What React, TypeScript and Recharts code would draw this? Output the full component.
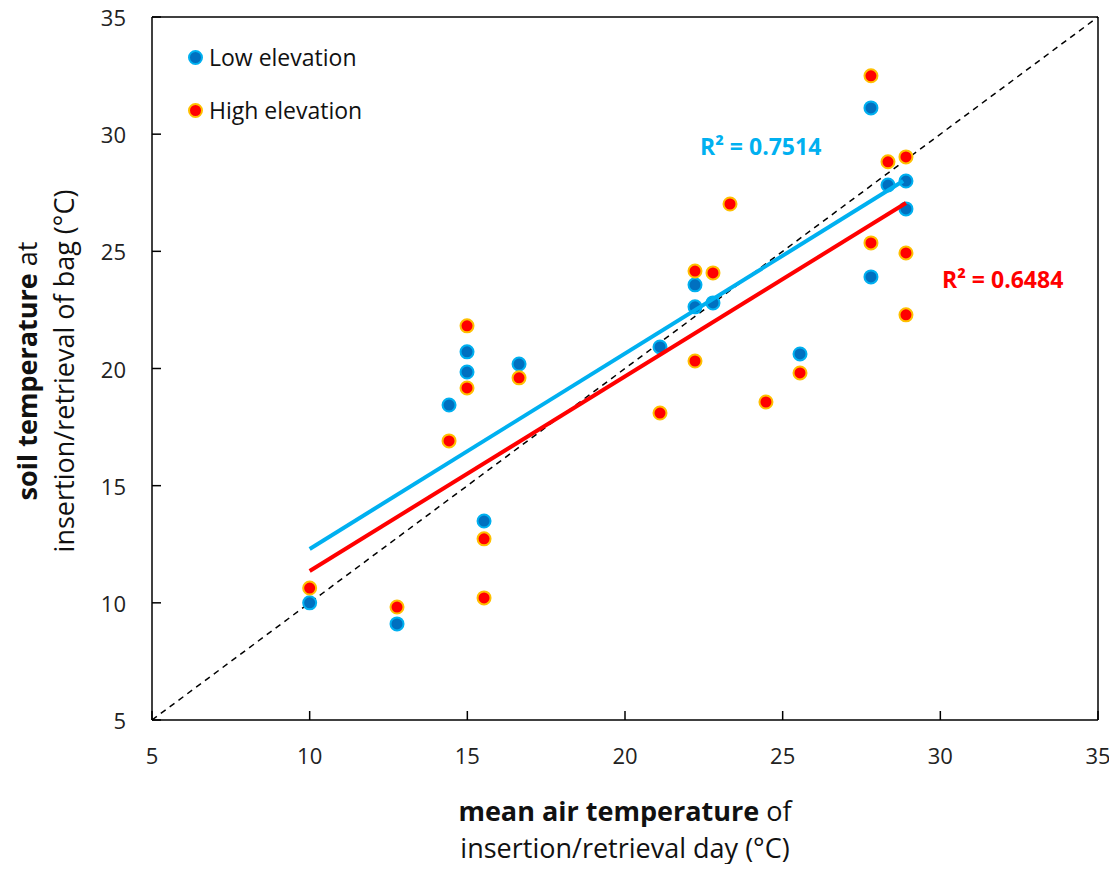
import { ScatterChart, Scatter, XAxis, YAxis, ReferenceLine } from "recharts";

// Low elevation sites: mean air temperature (x) vs soil temperature (y)
const lowAir = [10.0, 12.77, 14.42, 14.99, 14.99, 16.64, 15.53, 21.11, 22.22, 22.22, 22.79, 25.55, 27.8, 27.8, 28.34, 28.91, 28.91];
const lowSoil = [10.0, 9.1, 18.44, 20.71, 19.85, 20.19, 13.49, 20.92, 23.57, 22.63, 22.8, 20.62, 31.12, 23.91, 27.83, 28.0, 26.81];

// High elevation sites
const highAir = [10.0, 12.77, 14.42, 14.99, 14.99, 16.64, 15.53, 15.53, 21.11, 22.22, 22.79, 22.22, 23.33, 24.47, 25.55, 27.8, 27.8, 28.34, 28.91, 28.91, 28.91];
const highSoil = [10.63, 9.82, 16.91, 21.82, 19.17, 19.6, 12.73, 10.21, 18.1, 24.16, 24.08, 20.32, 27.02, 18.57, 19.81, 32.49, 25.36, 28.82, 29.03, 24.93, 22.29];

// linear trendline end points
const lowTrendAir = [10.0, 28.82];
const lowTrendSoil = [12.3, 28.0];
const highTrendAir = [10.0, 28.91];
const highTrendSoil = [11.36, 27.06];

const ticks = [5, 10, 15, 20, 25, 30, 35];

const zip = (xs: number[], ys: number[]) => xs.map((x, i) => ({ x, y: ys[i] }));

const FONT = "'Open Sans', 'Noto Sans', sans-serif";

const dot = (fill: string, stroke: string) => (p: any) =>
    <circle cx={p.cx} cy={p.cy} r={6.5} fill={fill} stroke={stroke} strokeWidth={2} />;

const XTick = (p: any) => (
    <g>
        <line x1={p.x} y1={p.y} x2={p.x} y2={p.y - 9} stroke="#000" strokeWidth={1.5} />
        <text x={p.x} y={p.y + 35} textAnchor="middle" dominantBaseline="central" fontSize={22} fill="#222" fontFamily={FONT}>
            {p.payload.value}
        </text>
    </g>
);

const YTick = (p: any) => (
    <g>
        <line x1={p.x} y1={p.y} x2={p.x + 9} y2={p.y} stroke="#000" strokeWidth={1.5} />
        <text x={p.x - 26} y={p.y} textAnchor="end" dominantBaseline="central" fontSize={22} fill="#222" fontFamily={FONT}>
            {p.payload.value}
        </text>
    </g>
);

export default function App() {
    const blue = "#0070C0";
    const cyan = "#00B0F0";
    const red = "#FF0000";
    const amber = "#FFC000";

    return (
        <div style={{ position: "relative", width: 1117, height: 872, margin: -8, fontFamily: FONT, color: "#111", overflow: "hidden" }}>
            <ScatterChart width={1117} height={872} margin={{ top: 17, right: 19, left: 92, bottom: 112 }}>
                <XAxis
                    type="number"
                    dataKey="x"
                    domain={[5, 35]}
                    ticks={ticks}
                    height={40}
                    tickSize={0}
                    tickMargin={0}
                    tickLine={false}
                    tick={<XTick />}
                    axisLine={{ stroke: "#000", strokeWidth: 1.5 }}
                    allowDataOverflow
                />
                <YAxis
                    type="number"
                    dataKey="y"
                    domain={[5, 35]}
                    ticks={ticks}
                    width={60}
                    tickSize={0}
                    tickMargin={0}
                    tickLine={false}
                    tick={<YTick />}
                    axisLine={{ stroke: "#000", strokeWidth: 1.5 }}
                    allowDataOverflow
                />
                <ReferenceLine y={35} stroke="#000" strokeWidth={1.5} />
                <ReferenceLine x={35} stroke="#000" strokeWidth={1.5} />
                <Scatter data={zip(lowAir, lowSoil)} shape={dot(blue, cyan)} isAnimationActive={false} />
                <Scatter data={zip(highAir, highSoil)} shape={dot(red, amber)} isAnimationActive={false} />
                <Scatter
                    data={zip(lowTrendAir, lowTrendSoil)}
                    line={{ stroke: cyan, strokeWidth: 4 }}
                    shape={() => <g />}
                    isAnimationActive={false}
                />
                <Scatter
                    data={zip(highTrendAir, highTrendSoil)}
                    line={{ stroke: red, strokeWidth: 4 }}
                    shape={() => <g />}
                    isAnimationActive={false}
                />
                <ReferenceLine
                    segment={[{ x: 5, y: 5 }, { x: 35, y: 35 }]}
                    stroke="#000"
                    strokeWidth={1.5}
                    strokeDasharray="6 5"
                />
            </ScatterChart>

            {/* legend */}
            <div style={{ position: "absolute", left: 188, top: 40, fontSize: 23, lineHeight: "34px" }}>
                <div style={{ display: "flex", alignItems: "center" }}>
                    <span style={{ width: 11, height: 11, borderRadius: "50%", background: blue, border: `2px solid ${cyan}`, marginRight: 6 }} />
                    Low elevation
                </div>
                <div style={{ display: "flex", alignItems: "center", marginTop: 19 }}>
                    <span style={{ width: 11, height: 11, borderRadius: "50%", background: red, border: `2px solid ${amber}`, marginRight: 6 }} />
                    High elevation
                </div>
            </div>

            {/* R² annotations */}
            <div style={{ position: "absolute", left: 700, top: 131, fontSize: 23, lineHeight: "30px", fontWeight: 700, color: cyan }}>
                R² = 0.7514
            </div>
            <div style={{ position: "absolute", left: 942, top: 264, fontSize: 23, lineHeight: "30px", fontWeight: 700, color: red }}>
                R² = 0.6484
            </div>

            {/* x axis title */}
            <div style={{ position: "absolute", left: 152, width: 946, top: 792, textAlign: "center", fontSize: 27, lineHeight: "37px" }}>
                <div><b>mean air temperature</b> of</div>
                <div>insertion/retrieval day (°C)</div>
            </div>

            {/* y axis title */}
            <div
                style={{
                    position: "absolute",
                    left: 44 - 350,
                    top: 371 - 36,
                    width: 700,
                    height: 72,
                    textAlign: "center",
                    fontSize: 27,
                    lineHeight: "37px",
                    transform: "rotate(-90deg)",
                }}
            >
                <div><b>soil temperature</b> at</div>
                <div>insertion/retrieval of bag (°C)</div>
            </div>
        </div>
    );
}
